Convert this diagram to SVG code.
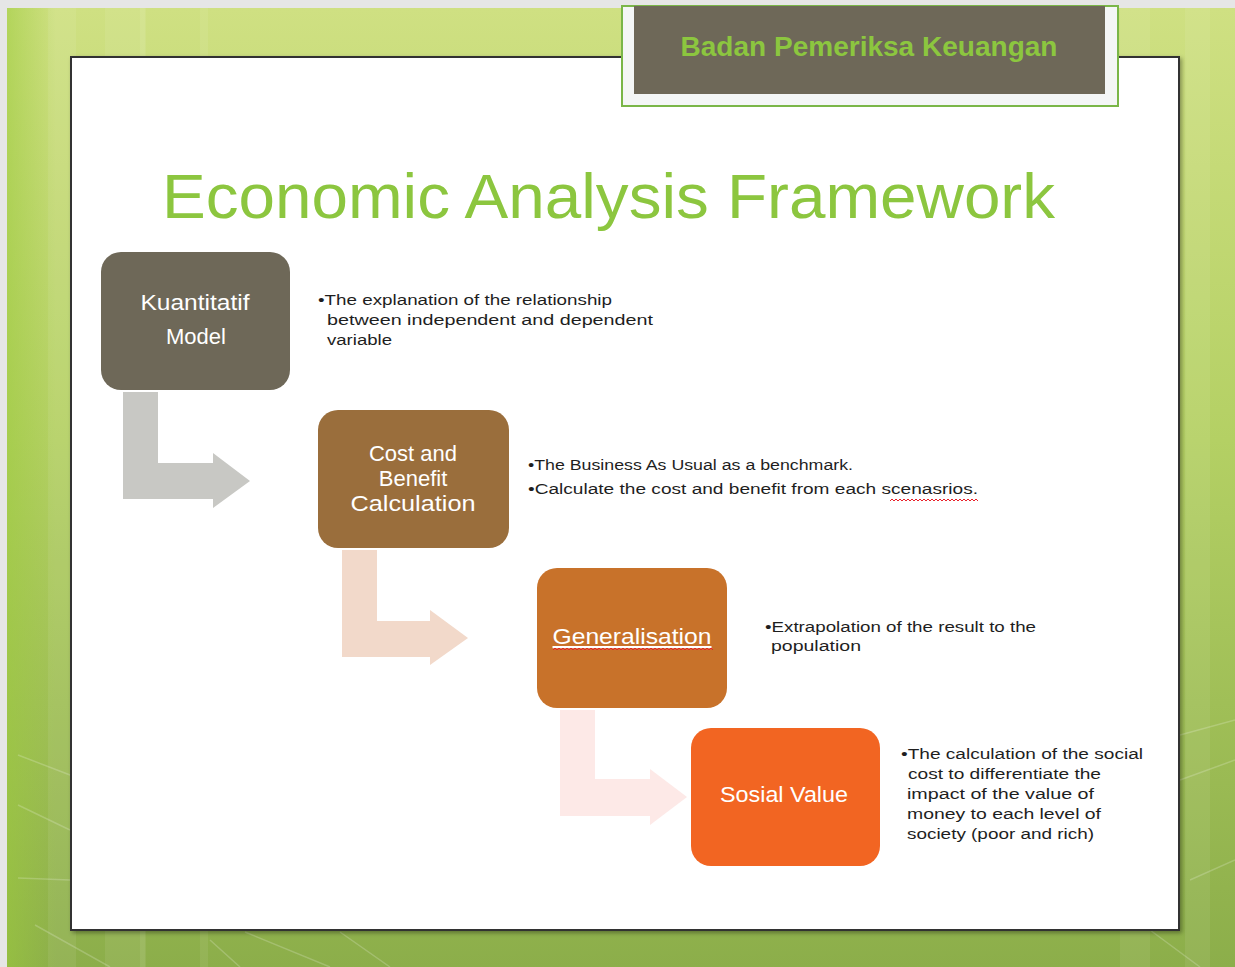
<svg xmlns="http://www.w3.org/2000/svg" width="1235" height="967" viewBox="0 0 1235 967">
<defs>
<linearGradient id="bgV" x1="0" y1="0" x2="0" y2="1">
<stop offset="0" stop-color="#cfe082"/>
<stop offset="0.45" stop-color="#b4d064"/>
<stop offset="1" stop-color="#8cae4a"/>
</linearGradient>
<linearGradient id="bgH" x1="0" y1="0" x2="1" y2="0">
<stop offset="0" stop-color="#9ccb3c" stop-opacity="0.55"/>
<stop offset="0.04" stop-color="#9ccb3c" stop-opacity="0"/>
<stop offset="1" stop-color="#9ccb3c" stop-opacity="0"/>
</linearGradient>
<filter id="sh" x="-5%" y="-5%" width="110%" height="110%">
<feDropShadow dx="2" dy="2" stdDeviation="2" flood-color="#000" flood-opacity="0.35"/>
</filter>
<style>
.node text{font-family:"Liberation Sans",Arial,sans-serif;fill:#ffffff;font-size:22px;text-anchor:middle}
.desc{font-family:"Liberation Sans",Arial,sans-serif;fill:#1e1e1e;font-size:15.5px}
.strip{fill:#ffffff;opacity:0.07}
.deco{stroke:#ffffff;stroke-opacity:0.2;stroke-width:1.5;fill:none}
.wavy{fill:none;stroke:#e8202a;stroke-width:1}
</style>
</defs>
<!-- background -->
<rect x="0" y="0" width="1235" height="967" fill="#e6e6e6"/>
<rect x="7" y="8" width="1228" height="959" fill="url(#bgV)"/>
<rect x="7" y="8" width="1228" height="959" fill="url(#bgH)"/>
<rect class="strip" x="48" y="8" width="28" height="959"/>
<rect class="strip" x="105" y="8" width="40" height="959"/>
<rect class="strip" x="140" y="8" width="6" height="959"/>
<rect class="strip" x="200" y="8" width="8" height="959"/>
<rect class="strip" x="1120" y="8" width="30" height="959"/>
<rect class="strip" x="1185" y="8" width="25" height="959"/>
<path class="deco" d="M18,755 L70,775 L98,800 M18,805 L70,830 M18,878 L70,880 M35,925 L110,967 M240,967 L210,940 M245,932 L330,967 M340,932 L390,967 M1180,735 L1235,720 M1180,780 L1235,760 M1190,880 L1235,860 M1150,930 L1200,967"/>
<!-- content panel -->
<rect x="71" y="57" width="1108" height="873" fill="#ffffff" stroke="#333333" stroke-width="2" filter="url(#sh)"/>
<!-- header -->
<g id="header">
<rect x="622" y="6" width="496" height="100" fill="#f4f6f6" stroke="#7ab648" stroke-width="2"/>
<rect x="634" y="6" width="471" height="88" fill="#6e6858"/>
<text x="869" y="56" font-family="'Liberation Sans',Arial,sans-serif" font-weight="bold" font-size="27" fill="#8cc63f" text-anchor="middle" textLength="377" lengthAdjust="spacingAndGlyphs">Badan Pemeriksa Keuangan</text>
</g>
<!-- title -->
<text id="title" x="162" y="218" font-family="'Liberation Sans',Arial,sans-serif" font-size="63" fill="#8cc63f" textLength="893" lengthAdjust="spacingAndGlyphs">Economic Analysis Framework</text>
<!-- connectors -->
<g id="connectors">
<path d="M123,392 H158 V463 H213 V453 L250,481 L213,508 V499 H123 Z" fill="#c8c8c4"/>
<path d="M342,550 H377 V621 H430 V610 L468,638 L430,665 V657 H342 Z" fill="#f2d9ca"/>
<path d="M560,710 H595 V779 H650 V769 L687,797 L650,825 V816 H560 Z" fill="#fde9e7"/>
</g>
<!-- nodes -->
<g id="node-kuantitatif" class="node">
<rect x="101" y="252" width="189" height="138" rx="20" fill="#6e6858"/>
<text x="195" y="310" textLength="109" lengthAdjust="spacingAndGlyphs">Kuantitatif</text>
<text x="196" y="344">Model</text>
</g>
<g id="node-cost" class="node">
<rect x="318" y="410" width="191" height="138" rx="20" fill="#9a6e3c"/>
<text x="413" y="461">Cost and</text>
<text x="413" y="486">Benefit</text>
<text x="413" y="511" textLength="125" lengthAdjust="spacingAndGlyphs">Calculation</text>
</g>
<g id="node-generalisation" class="node">
<rect x="537" y="568" width="190" height="140" rx="20" fill="#c8722a"/>
<text x="632" y="644" text-decoration="underline" textLength="159" lengthAdjust="spacingAndGlyphs">Generalisation</text>
<path class="wavy" d="M553,650 l2,-2 l2,2 l2,-2 l2,2 l2,-2 l2,2 l2,-2 l2,2 l2,-2 l2,2 l2,-2 l2,2 l2,-2 l2,2 l2,-2 l2,2 l2,-2 l2,2 l2,-2 l2,2 l2,-2 l2,2 l2,-2 l2,2 l2,-2 l2,2 l2,-2 l2,2 l2,-2 l2,2 l2,-2 l2,2 l2,-2 l2,2 l2,-2 l2,2 l2,-2 l2,2 l2,-2 l2,2 l2,-2 l2,2 l2,-2 l2,2 l2,-2 l2,2 l2,-2 l2,2 l2,-2 l2,2 l2,-2 l2,2 l2,-2 l2,2 l2,-2 l2,2 l2,-2 l2,2 l2,-2 l2,2 l2,-2 l2,2 l2,-2 l2,2 l2,-2 l2,2 l2,-2 l2,2 l2,-2 l2,2 l2,-2 l2,2 l2,-2 l2,2 l2,-2 l2,2 l2,-2 l2,2 l2,-2 l2,2"/>
</g>
<g id="node-sosial" class="node">
<rect x="691" y="728" width="189" height="138" rx="20" fill="#f26522"/>
<text x="784" y="802" textLength="128" lengthAdjust="spacingAndGlyphs">Sosial Value</text>
</g>
<!-- descriptions -->
<g id="desc-1" class="desc">
<text x="318" y="305" textLength="294" lengthAdjust="spacingAndGlyphs">•The explanation of the relationship</text>
<text x="327" y="325" textLength="326" lengthAdjust="spacingAndGlyphs">between independent and dependent</text>
<text x="327" y="345" textLength="65" lengthAdjust="spacingAndGlyphs">variable</text>
</g>
<g id="desc-2" class="desc">
<text x="528" y="470" textLength="325" lengthAdjust="spacingAndGlyphs">•The Business As Usual as a benchmark.</text>
<text x="528" y="494" textLength="450" lengthAdjust="spacingAndGlyphs">•Calculate the cost and benefit from each scenasrios.</text>
<path class="wavy" d="M890,501 l2,-2 l2,2 l2,-2 l2,2 l2,-2 l2,2 l2,-2 l2,2 l2,-2 l2,2 l2,-2 l2,2 l2,-2 l2,2 l2,-2 l2,2 l2,-2 l2,2 l2,-2 l2,2 l2,-2 l2,2 l2,-2 l2,2 l2,-2 l2,2 l2,-2 l2,2 l2,-2 l2,2 l2,-2 l2,2 l2,-2 l2,2 l2,-2 l2,2 l2,-2 l2,2 l2,-2 l2,2 l2,-2 l2,2 l2,-2 l2,2"/>
</g>
<g id="desc-3" class="desc">
<text x="765" y="632" textLength="271" lengthAdjust="spacingAndGlyphs">•Extrapolation of the result to the</text>
<text x="771" y="651" textLength="90" lengthAdjust="spacingAndGlyphs">population</text>
</g>
<g id="desc-4" class="desc">
<text x="901" y="759" textLength="242" lengthAdjust="spacingAndGlyphs">•The calculation of the social</text>
<text x="908" y="779" textLength="193" lengthAdjust="spacingAndGlyphs">cost to differentiate the</text>
<text x="907" y="799" textLength="187" lengthAdjust="spacingAndGlyphs">impact of the value of</text>
<text x="907" y="819" textLength="194" lengthAdjust="spacingAndGlyphs">money to each level of</text>
<text x="907" y="839" textLength="187" lengthAdjust="spacingAndGlyphs">society (poor and rich)</text>
</g>
</svg>
